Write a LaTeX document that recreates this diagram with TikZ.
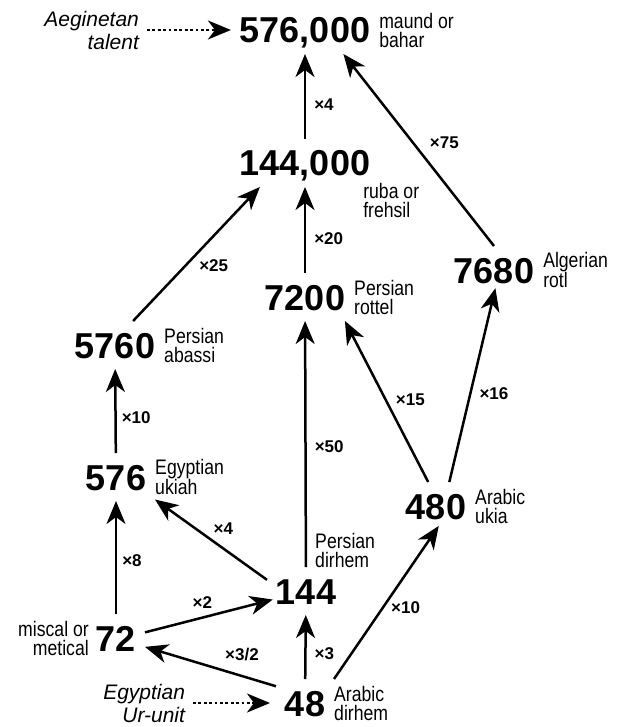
\documentclass[tikz,border=0pt]{standalone}
\usepackage{fontspec}
\setmainfont{Liberation Sans}
\newfontfamily\namefont[FakeStretch=0.84]{Liberation Sans}
\usetikzlibrary{positioning,arrows.meta}

\begin{document}
\begin{tikzpicture}[
    x=1pt, y=-1pt,
    num/.style={
        font=\bfseries\fontsize{36}{40}\selectfont, inner sep=0pt,
        outer xsep=9pt, outer ysep=11pt, text height=26pt, text depth=0pt
      },
    unitname/.style={font=\namefont\fontsize{21}{19}\selectfont, align=left, inner sep=0pt},
    origin/.style={font=\itshape\fontsize{21}{23}\selectfont, align=right, inner sep=0pt, outer sep=8pt},
    factor/.style={font=\bfseries\fontsize{17}{20}\selectfont, inner sep=0pt},
    conv/.style={-{Stealth[length=23pt, width=19pt, inset=7pt]}, line width=2.5pt},
    guess/.style={conv, dash pattern=on 2.8pt off 2.6pt},
  ]
  \useasboundingbox (0,0) rectangle (621,727);
  % weights
  \node[num](n576k) at (305,30) {576,000};
  \node[num](n144k) at (305,163) {144,000};
  \node[num](n7200) at (305,297) {7200};
  \node[num](n7680) at (494,270) {7680};
  \node[num](n5760) at (115,345) {5760};
  \node[num](n576) at (116,477) {576};
  \node[num](n480) at (436,506) {480};
  \node[num](n144) at (306,591) {144};
  \node[num](n72) at (116,638) {72};
  \node[num](n48) at (305,703) {48};
  % names
  \node[unitname] [right=0pt of n576k] {maund or\\bahar};
  \node[unitname] [below right=-4pt and -16pt of n144k] {ruba or\\frehsil};
  \node[unitname] [right=0pt of n7200] {Persian\\rottel};
  \node[unitname] [right=0pt of n7680] {Algerian\\rotl};
  \node[unitname] [right=0pt of n5760] {Persian\\abassi};
  \node[unitname] [right=0pt of n576] {Egyptian\\ukiah};
  \node[unitname] [right=0pt of n480] {Arabic\\ukia};
  \node[unitname] [above right=-1pt and -30pt of n144] {Persian\\dirhem};
  \node[unitname, align=right] [left=-2pt of n72] {miscal or\\metical};
  \node[unitname] [right=0pt of n48] {Arabic\\dirhem};
  \node[origin](talent) [left=84pt of n576k] {Aeginetan\\talent};
  \node[origin](urunit) [left=83pt of n48] {Egyptian\\Ur-unit};
  % conversions
  \path
    (talent) edge[guess] (n576k)
    (urunit) edge[guess, shorten >=6pt] (n48)
    (n144k) edge[conv] node[factor, pos=.4, right=8pt] {×4} (n576k)
    (n7680.north) edge[conv] node[factor, pos=.54, right=16pt] {×75} (n576k.-32)
    (n5760.53) edge[conv] node[factor, pos=.41, right=13pt] {×25} (n144k.-152)
    (n7200) edge[conv] node[factor, pos=.4, right=8pt] {×20} (n144k)
    (n576) edge[conv] node[factor, pos=.42, right=5pt] {×10} (n5760)
    (n144) edge[conv] node[factor, pos=.49, right=8pt] {×50} (n7200)
    (n480.108) edge[conv] node[factor, pos=.51, right=9pt] {×15} (n7200.-31)
    (n480.61) edge[conv, shorten >=-6pt] node[factor, pos=.47, right=8pt] {×16} (n7680.south)
    (n144.164) edge[conv] node[factor, pos=.64, right=17pt] {×4} (n576.-30)
    (n72) edge[conv] node[factor, pos=.47, right=5pt] {×8} (n576)
    (n48.north east) edge[conv, shorten >=-5pt] node[factor, pos=.48, right=7pt] {×10} (n480.south)
    (n72.11) edge[conv, shorten >=-6pt] node[factor, pos=.47, above=8pt] {×2} (n144)
    (n48.150) edge[conv] node[factor, pos=.26, above=14pt] {×3/2} (n72.-17)
    (n48) edge[conv] node[factor, pos=.4, right=8pt] {×3} (n144)
  ;
\end{tikzpicture}
\end{document}
